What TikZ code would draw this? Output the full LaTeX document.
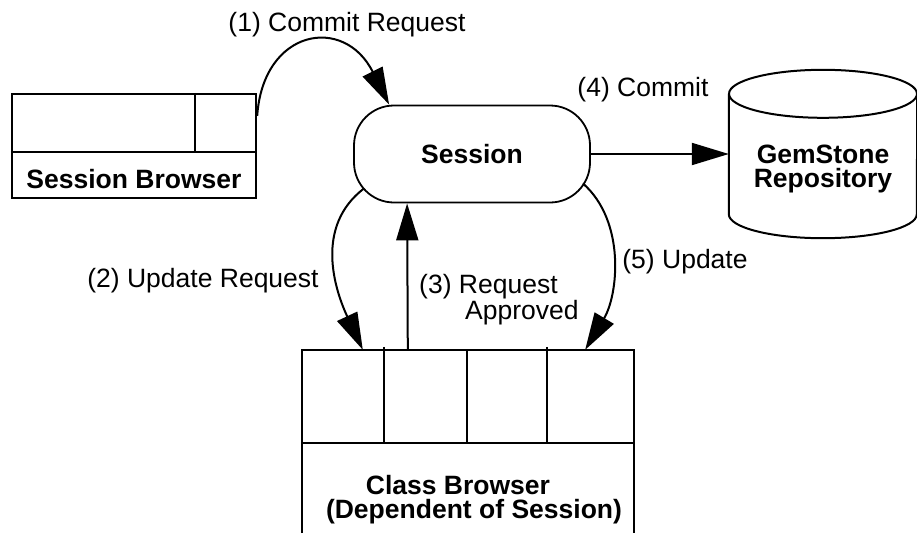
\documentclass[tikz,border=0pt]{standalone}
\usepackage{fontspec}
\setmainfont{Liberation Sans}
\usetikzlibrary{arrows.meta}

\begin{document}
\begin{tikzpicture}[x=1pt,y=1pt,
        box/.style={draw,line width=2.4pt,inner sep=0pt},
        hole/.style={inner sep=0pt},
        lbl/.style={font=\fontsize{26.5}{24}\selectfont,inner sep=0pt},
        ttl/.style={font=\fontsize{26.5}{24}\selectfont\bfseries,inner sep=0pt,align=center},
        arr/.style={line width=2pt,-{Triangle[length=37pt,width=22pt]}}]
    \useasboundingbox (0,0) rectangle (917,-533);

    % session browser
    \node[box,minimum width=244pt,minimum height=104pt] (sbrowser) at (134,-146) {};
    \draw[line width=2.4pt] ([yshift=-59pt]sbrowser.north west) -- ([yshift=-59pt]sbrowser.north east);
    \draw[line width=2.4pt] ([xshift=-62pt]sbrowser.north east) -- ++(0,-59);
    \node[ttl,anchor=base] (sbtitle) at (134,-188) {Session Browser};

    % session
    \node[draw,line width=1.8pt,rounded corners=40pt,minimum width=236pt,minimum height=97pt,
        font=\fontsize{26.5}{24}\selectfont\bfseries] (sess) at (472,-154) {Session};

    % repository
    \node[hole,minimum width=188pt,minimum height=120pt] (repo) at (823,-154) {};
    \draw[line width=2pt] (repo.north west) -- (repo.south west)
        arc[start angle=180,end angle=360,x radius=94pt,y radius=24pt] -- (repo.north east);
    \draw[line width=2pt] (repo.north) ellipse[x radius=94pt,y radius=24pt];
    \node[ttl] (repotitle) at ([yshift=-15pt]repo.center) {GemStone\\Repository};

    % class browser
    \node[hole,minimum width=332pt,minimum height=183pt] (cbrowser) at (468,-441.5) {};
    \draw[line width=2.4pt] (cbrowser.south west) |- (cbrowser.north east) -- (cbrowser.south east);
    \draw[line width=2.4pt] ([yshift=-93pt]cbrowser.north west) -- ([yshift=-93pt]cbrowser.north east);
    \foreach \dx/\up in {82/3,165/0,245/3}
        \draw[line width=2.4pt] ([xshift=\dx pt,yshift=\up pt]cbrowser.north west) -- ++(0,-93-\up);
    \node[ttl] (cbtitle) at (458,-500) {Class Browser\\\hspace*{32pt}(Dependent of Session)};

    % labels
    \node[lbl,anchor=base] (l1) at (347,-31) {(1) Commit Request};
    \node[lbl,anchor=base] (l2) at (203,-287) {(2) Update Request};
    \node[lbl,align=left,anchor=north west] (l3) at (419,-274) {(3) Request\\\hspace*{46pt}Approved};
    \node[lbl,anchor=base] (l4) at (643,-96) {(4) Commit};
    \node[lbl,anchor=base] (l5) at (685,-268) {(5) Update};

    % messages
    \draw[arr] ([yshift=-23pt]sbrowser.north east) .. controls +(6,87) and +(-45,90) .. ([xshift=36pt]sess.north west);
    \draw[arr] ([xshift=11pt,yshift=15pt]sess.south west) .. controls +(-50,-38) and +(-28,60) .. ([xshift=61pt]cbrowser.north west);
    \draw[arr] ([xshift=106pt]cbrowser.north west) -- ([xshift=54pt]sess.south west);
    \draw[arr] (sess.east) -- (repo.west);
    \draw[arr] ([xshift=-8pt,yshift=20pt]sess.south east) .. controls +(43,-38) and +(33,55) .. ([xshift=-49pt]cbrowser.north east);
\end{tikzpicture}
\end{document}
